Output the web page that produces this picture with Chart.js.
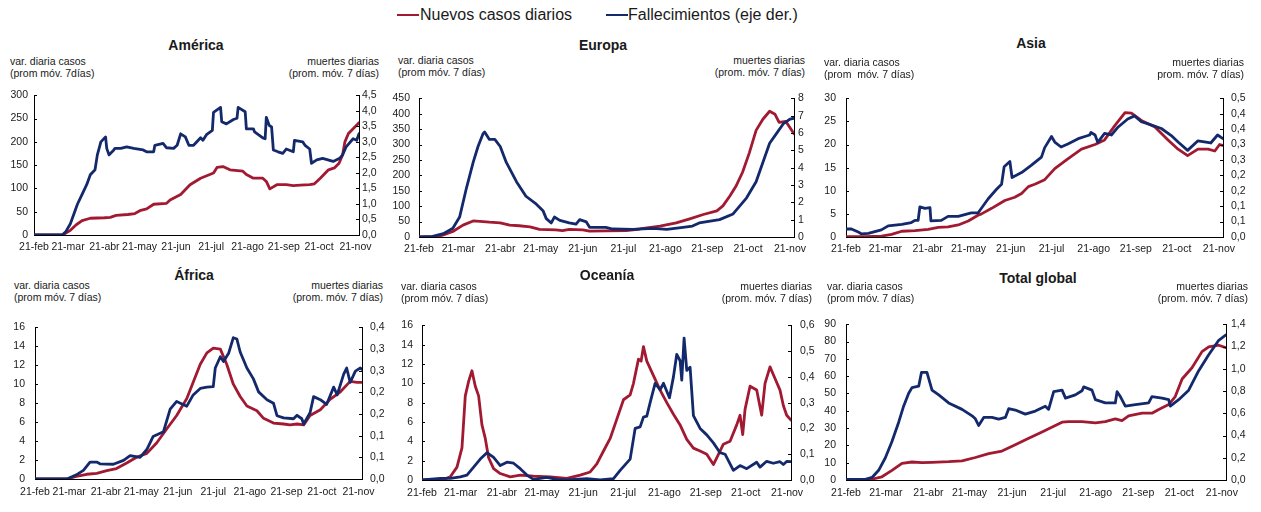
<!DOCTYPE html>
<html lang="es">
<head>
<meta charset="utf-8">
<title>Casos y fallecimientos por región</title>
<script src="https://cdn.jsdelivr.net/npm/chart.js@4/dist/chart.umd.min.js"></script>
<style>
  html, body { margin: 0; padding: 0; background: #fff; }
  #lienzo { position: relative; width: 1261px; height: 512px; overflow: hidden;
            font-family: "Liberation Sans", Arial, sans-serif; color: #1a1a1a; }
  .panel { position: absolute; }
  .titulo { position: absolute; font-weight: bold; font-size: 14px; white-space: nowrap;
            transform: translate(-50%, -50%); line-height: 16px; }
  .eje { position: absolute; font-size: 10.5px; line-height: 12.5px; white-space: pre; }
  .eje.der { text-align: right; transform: translateX(-100%); }
  .ley-linea { position: absolute; height: 2px; }
  .ley-texto { position: absolute; font-size: 16px; line-height: 18px; white-space: nowrap; }
</style>
</head>
<body>
<div id="lienzo"></div>
<script>
// Días contados desde el 21 de febrero (año bisiesto); marcas el día 21 de cada mes
const diasMarca = [0, 29, 60, 90, 121, 151, 182, 213, 243, 274];
const etiquetasMes = ['21-feb', '21-mar', '21-abr', '21-may', '21-jun', '21-jul', '21-ago', '21-sep', '21-oct', '21-nov'];
const ultimoDia = 277;

// Series: pares [día, valor]. Casos en eje izquierdo, muertes en eje derecho.
const americaCasos = [[0,0],[20,0],[25,1],[31,10],[36,22],[41,31],[48,36],[60,37],[65,38],[70,42],[80,44],[86,46],[91,53],[96,56],[102,66],[113,68],[116,75],[125,87],[133,108],[142,122],[153,133],[156,145],[161,147],[167,140],[178,137],[181,130],[187,122],[195,122],[198,115],[201,99],[207,108],[215,108],[221,106],[227,107],[235,108],[239,110],[244,122],[251,140],[256,144],[260,154],[263,172],[265,200],[268,218],[272,228],[277,241]];
const americaMuertes = [[0,0],[24,0],[27,0.1],[31,0.36],[37,0.99],[41,1.31],[45,1.63],[48,1.94],[52,2.1],[54,2.58],[57,3.0],[61,3.16],[62,2.79],[64,2.58],[68,2.74],[69,2.79],[74,2.79],[79,2.84],[85,2.79],[93,2.74],[96,2.68],[102,2.68],[103,2.89],[110,2.95],[113,2.81],[119,2.79],[122,2.89],[125,3.26],[129,3.16],[132,2.89],[136,2.89],[142,3.13],[144,3.05],[147,3.23],[152,3.37],[153,3.95],[159,4.11],[160,3.65],[164,3.58],[170,3.72],[173,3.76],[174,4.11],[180,3.97],[181,3.42],[187,3.42],[188,3.32],[195,3.13],[197,3.1],[198,3.79],[200.5,3.53],[202.5,3.48],[204,2.74],[208,2.68],[212,2.63],[215,2.77],[221,2.68],[222,3.05],[229,3.0],[231,2.89],[235,2.77],[236.5,2.31],[241,2.42],[246,2.47],[255,2.37],[260.5,2.47],[263,2.58],[266,2.84],[272,3.1],[275,3.05],[277,3.26]];

const europaCasos = [[0,0],[13,0],[18,7],[25,18],[32.5,38.5],[40,52],[45,51],[52,48],[60,46],[67,38.5],[74,36.5],[82,33],[89,25],[101,23],[106,21],[111,25],[121,23],[126,19],[138,20],[153,21],[163,26],[178,35],[190,46],[200,59],[210,73],[220,85],[224.5,101],[229.5,132],[234,163.5],[239,210],[244,273],[249,346],[254,382],[259,408],[263,398],[266,372],[271,375],[277,335]];
const europaMuertes = [[0,0],[10,0.04],[18,0.19],[25,0.5],[30,1.15],[35,2.81],[40,4.3],[43.6,5.22],[47.3,5.96],[48.5,6.06],[52,5.63],[56,5.63],[60,5.22],[64.5,4.3],[72,3.19],[79,2.35],[86.7,1.89],[91.6,1.52],[94,1.06],[97.7,0.81],[100,1.15],[104,0.96],[111,0.81],[116,0.74],[118.7,1.0],[123.6,0.87],[126,0.56],[138,0.56],[143,0.46],[158,0.44],[173,0.5],[183,0.44],[195,0.56],[202,0.63],[207,0.81],[222,1.0],[232,1.33],[242,2.26],[249,3.19],[254,4.3],[259,5.41],[264,5.96],[269,6.52],[274,6.8],[277,6.85]];

const asiaCasos = [[0,0.1],[14,0.1],[26,0.2],[33.5,0.55],[41,1.24],[50.7,1.38],[60.4,1.65],[67.8,2.07],[75,2.2],[82.5,2.6],[89.8,3.45],[97,4.7],[99.6,5.0],[107,6.2],[116.7,7.9],[124,8.6],[129,9.4],[134,10.9],[138.7,11.4],[146,12.4],[153.4,14.8],[163,16.9],[173,19],[183,20],[190,21],[197.5,24.1],[205,26.9],[209.7,26.8],[217,25.2],[227,23.8],[236.6,21],[244,19],[251,17.6],[258.6,19],[266,19],[271,18.6],[274.5,20],[277,19.8]];
const asiaMuertes = [[0,0.026],[4,0.026],[9,0.016],[11.5,0.01],[16.4,0.012],[26,0.023],[31,0.036],[41,0.041],[48,0.047],[50.7,0.054],[53,0.054],[54.3,0.098],[58,0.093],[61.7,0.095],[62.4,0.052],[70,0.054],[75,0.067],[82.5,0.067],[92,0.078],[97,0.078],[104.5,0.124],[110.6,0.155],[114.3,0.171],[116.2,0.228],[120.4,0.245],[122,0.193],[129,0.209],[136.3,0.233],[143.6,0.259],[146,0.29],[151,0.326],[153.4,0.308],[158,0.292],[163,0.302],[170.6,0.319],[175.5,0.326],[179,0.331],[180,0.339],[183,0.331],[185,0.307],[190,0.336],[195,0.331],[200,0.357],[207,0.383],[212,0.393],[217,0.374],[222,0.367],[231.7,0.352],[239,0.329],[244,0.308],[251,0.281],[258.6,0.312],[268,0.305],[273,0.331],[277,0.319]];

const africaCasos = [[0,0],[27,0],[35,0.27],[43.8,0.5],[52.3,0.6],[60.8,0.88],[69,1.1],[77.7,1.68],[86,2.29],[94.7,2.7],[103,3.8],[111.7,5.3],[120,6.7],[128.6,8.5],[134,10.2],[140,12.1],[145.6,13.3],[151,13.8],[157,13.7],[162.4,12.1],[168,10.0],[173.8,8.7],[179.5,7.7],[188,7.2],[193.6,6.4],[202,5.9],[210.6,5.8],[216,5.7],[222,5.8],[227.6,5.7],[233,6.7],[241.7,7.3],[250,8.4],[258.7,9.2],[267,10.3],[272.8,10.2],[277,10.2]];
const africaMuertes = [[0,0],[27,0],[35,0.0096],[41,0.02],[46.6,0.039],[52.3,0.039],[55,0.035],[66.4,0.034],[75,0.043],[80.6,0.054],[89,0.05],[94.7,0.068],[100,0.098],[108.8,0.109],[114.5,0.161],[120,0.179],[128.6,0.168],[134,0.194],[140,0.209],[145.6,0.212],[151,0.213],[152.7,0.256],[157,0.282],[159.7,0.271],[164,0.29],[168,0.326],[171,0.323],[173.8,0.293],[179.5,0.256],[185,0.231],[189.4,0.201],[196.5,0.183],[202,0.175],[205,0.146],[210.6,0.141],[219,0.139],[222,0.147],[226,0.139],[227.6,0.127],[233,0.153],[236,0.19],[241.7,0.183],[247,0.172],[253,0.212],[256,0.194],[261.5,0.242],[264,0.256],[267,0.223],[271.4,0.249],[275.6,0.256],[277,0.253]];

const oceaniaCasos = [[0,0],[16.25,0.07],[21.25,0.33],[26.25,1.33],[30,3.33],[32.5,8.7],[35,10.2],[37.5,11.3],[40,9.7],[42.5,8.7],[45,5.7],[47.5,4.3],[50,2.3],[53.75,1.17],[58.75,0.67],[66.25,0.33],[73.75,0.5],[83.75,0.4],[96.25,0.33],[108.75,0.17],[118.75,0.5],[126.25,0.83],[131.25,1.67],[136.25,3.0],[141.25,4.3],[146.25,6.3],[151.25,8.3],[156.25,8.8],[158.75,10],[162.5,12.5],[164.5,12.3],[166.25,13.8],[168.75,12.3],[173.75,10.8],[178.75,9.3],[183.75,8],[188.75,6.8],[193.75,5.7],[198.75,4.2],[203.75,3.3],[208.75,3],[213.75,2.67],[218.75,1.6],[221.25,2.3],[226.25,3.7],[231.25,4],[236.25,5.7],[238.75,6.7],[240.75,4.7],[242.5,7.3],[246.25,9.7],[251.25,9.3],[255,6.7],[257.5,10],[261.25,11.7],[265,10.5],[268.75,9.3],[271.25,7.7],[273.75,6.7],[277,6.2]];
const oceaniaMuertes = [[0,0],[13.75,0.006],[21.25,0.006],[28.75,0.0125],[33.75,0.019],[38.75,0.05],[43.75,0.081],[48.75,0.106],[53.75,0.0875],[58.75,0.056],[63.75,0.069],[68.75,0.065],[73.75,0.044],[78.75,0.019],[83.75,0.0025],[93.75,0.01],[101.25,0.002],[108.75,0],[123.75,0.005],[133.75,0],[143.75,0.005],[148.75,0.0375],[156.25,0.081],[160,0.2],[163.75,0.206],[166.25,0.244],[168.75,0.2475],[171.25,0.3],[175,0.375],[178.75,0.35],[181.25,0.375],[183.75,0.344],[185.75,0.319],[188.75,0.4],[191.25,0.4875],[193.75,0.4625],[195,0.3875],[196.75,0.55],[198.75,0.425],[201.25,0.4375],[203.75,0.25],[208.75,0.2],[213.75,0.175],[218.75,0.144],[223.75,0.106],[227.5,0.1],[231.25,0.0625],[233.75,0.0375],[238.75,0.056],[243.75,0.044],[251.25,0.069],[253.75,0.05],[258.75,0.0725],[263.75,0.065],[268.75,0.071],[271.25,0.06],[273.75,0.072],[277,0.071]];

const globalCasos = [[0,0],[16.5,0],[26.2,1.86],[33.5,5.6],[40.8,9.65],[48.1,10.4],[55.4,10],[62.7,10.2],[74.8,10.6],[84.6,11.1],[94.3,13],[104,15.2],[113.7,16.7],[123.4,20.4],[133.2,24.1],[142.9,27.8],[152.6,31.5],[157.5,33.4],[162.3,33.8],[172,33.8],[181.8,33],[189,33.8],[196.3,35.3],[201.2,34.3],[206,37.1],[215.8,38.6],[223,38.6],[228,40.8],[235.2,43.6],[240,48.2],[245,58.4],[252.2,64.9],[259.5,74.2],[264.4,77],[271.7,77.9],[277,76.5]];
const globalMuertes = [[0,0.006],[14,0.006],[19,0.023],[23.8,0.087],[28.7,0.2],[33.5,0.346],[38.4,0.52],[42,0.664],[45.7,0.78],[48.1,0.831],[53,0.843],[55,0.967],[59,0.967],[62.7,0.808],[67.6,0.765],[74.8,0.693],[84.6,0.635],[91.9,0.577],[94.3,0.55],[96.7,0.49],[100.4,0.563],[106.4,0.563],[111.3,0.548],[116.2,0.563],[118.6,0.641],[123.4,0.629],[130.7,0.592],[138,0.62],[145.3,0.664],[147.7,0.635],[151.4,0.794],[157.5,0.808],[160,0.736],[167.2,0.765],[172,0.802],[173.3,0.837],[179.3,0.808],[181.8,0.722],[189,0.693],[196.3,0.693],[197.6,0.794],[200,0.75],[203.6,0.664],[211,0.678],[220.6,0.693],[223,0.75],[230.4,0.736],[235.2,0.722],[236.4,0.664],[242.5,0.722],[249.8,0.808],[257,0.981],[264.4,1.126],[271.7,1.256],[277,1.305]];

// Etiquetas de los ejes
const americaIzq = ['0','50','100','150','200','250','300'];
const americaDer = ['0,0','0,5','1,0','1,5','2,0','2,5','3,0','3,5','4,0','4,5'];
const europaIzq = ['0','50','100','150','200','250','300','350','400','450'];
const europaDer = ['0','1','2','3','4','5','6','7','8'];
const asiaIzq = ['0','5','10','15','20','25','30'];
const asiaDer = ['0,0','0,1','0,1','0,2','0,2','0,3','0,3','0,4','0,4','0,5'];
const africaIzq = ['0','2','4','6','8','10','12','14','16'];
const africaDer = ['0,0','0,1','0,1','0,2','0,2','0,3','0,3','0,4'];
const oceaniaIzq = ['0','2','4','6','8','10','12','14','16'];
const oceaniaDer = ['0,0','0,1','0,2','0,3','0,4','0,5','0,6'];
const globalIzq = ['0','10','20','30','40','50','60','70','80','90'];
const globalDer = ['0,0','0,2','0,4','0,6','0,8','1,0','1,2','1,4'];

const ROJO = '#a11a31';
const AZUL = '#13296b';
const TEXTO = '#1a1a1a';

const paneles = [
  { titulo: 'América', casos: americaCasos, muertes: americaMuertes,
    izq: americaIzq, pasoIzq: 50, der: americaDer, pasoDer: 0.5,
    area: { l: 34, r: 359, t: 93, b: 235 }, padIzq: 6, padDer: 3, padX: 6,
    tituloPos: [196, 45],
    rotIzq: ['var. diaria casos', '(prom móv. 7días)'], rotDer: ['muertes diarias', '(prom. móv. 7 días)'],
    rotY: 61, rotIzqX: 10, rotDerX: 379 },
  { titulo: 'Europa', casos: europaCasos, muertes: europaMuertes,
    izq: europaIzq, pasoIzq: 50, der: europaDer, pasoDer: 1,
    area: { l: 419, r: 794, t: 93, b: 237 }, padIzq: 9, padDer: 4, padX: 6,
    tituloPos: [603, 45],
    rotIzq: ['var. diaria casos', '(prom móv. 7 días)'], rotDer: ['muertes diarias', '(prom. móv. 7 días)'],
    rotY: 60, rotIzqX: 398, rotDerX: 805 },
  { titulo: 'Asia', casos: asiaCasos, muertes: asiaMuertes,
    izq: asiaIzq, pasoIzq: 5, der: asiaDer, pasoDer: 0.05,
    area: { l: 846, r: 1223, t: 92, b: 237 }, padIzq: 10, padDer: 8, padX: 6,
    tituloPos: [1031, 43],
    rotIzq: ['var. diaria casos', '(prom  móv. 7 días)'], rotDer: ['muertes diarias', 'prom. móv. 7 días)'],
    rotY: 62, rotIzqX: 824, rotDerX: 1244 },
  { titulo: 'África', casos: africaCasos, muertes: africaMuertes,
    izq: africaIzq, pasoIzq: 2, der: africaDer, pasoDer: 0.05,
    area: { l: 35, r: 362, t: 321, b: 479 }, padIzq: 10, padDer: 8, padX: 7,
    tituloPos: [194, 275],
    rotIzq: ['var. diaria casos', '(prom móv. 7 días)'], rotDer: ['muertes diarias', '(prom. móv. 7 días)'],
    rotY: 285, rotIzqX: 14, rotDerX: 383 },
  { titulo: 'Oceanía', casos: oceaniaCasos, muertes: oceaniaMuertes,
    izq: oceaniaIzq, pasoIzq: 2, der: oceaniaDer, pasoDer: 0.1,
    area: { l: 422, r: 791, t: 320, b: 480 }, padIzq: 9, padDer: 9, padX: 7,
    tituloPos: [607, 275],
    rotIzq: ['var. diaria casos', '(prom móv. 7 días)'], rotDer: ['muertes diarias', '(prom. móv. 7 días)'],
    rotY: 286, rotIzqX: 401, rotDerX: 812 },
  { titulo: 'Total global', casos: globalCasos, muertes: globalMuertes,
    izq: globalIzq, pasoIzq: 10, der: globalDer, pasoDer: 0.2,
    area: { l: 846, r: 1226, t: 318, b: 480 }, padIzq: 10, padDer: 5, padX: 7,
    tituloPos: [1038, 278],
    rotIzq: ['var. diaria casos', '(prom móv. 7 días)'], rotDer: ['muertes diarias', '(prom. móv. 7 días)'],
    rotY: 286, rotIzqX: 827, rotDerX: 1248 }
];

// Marcas cortas de los ejes verticales, dibujadas hacia dentro del área del gráfico
const marcasInternas = {
  id: 'marcasInternas',
  afterDraw(chart) {
    const { ctx, chartArea } = chart;
    ctx.save();
    ctx.strokeStyle = '#000';
    ctx.lineWidth = 1;
    ['y', 'y1'].forEach(id => {
      const s = chart.scales[id];
      const x0 = id === 'y' ? chartArea.left : chartArea.right;
      const dx = id === 'y' ? 3 : -3;
      s.ticks.forEach(t => {
        const py = Math.round(s.getPixelForValue(t.value)) + 0.5;
        ctx.beginPath();
        ctx.moveTo(x0, py);
        ctx.lineTo(x0 + dx, py);
        ctx.stroke();
      });
    });
    ctx.restore();
  }
};

const lienzo = document.getElementById('lienzo');

function div(cls, text, css) {
  const d = document.createElement('div');
  d.className = cls;
  d.textContent = text;
  Object.assign(d.style, css);
  lienzo.appendChild(d);
  return d;
}

// Leyenda común
div('ley-linea', '', { left: '397px', top: '14px', width: '22px', background: ROJO });
div('ley-texto', 'Nuevos casos diarios', { left: '420px', top: '6px' });
div('ley-linea', '', { left: '606px', top: '14px', width: '22px', background: AZUL });
div('ley-texto', 'Fallecimientos (eje der.)', { left: '628px', top: '6px' });

const ANCHO_IZQ = 40, ANCHO_DER = 40, ALTO_X = 24, MARGEN_SUP = 10;
const fuente = { family: '"Liberation Sans", Arial, sans-serif', size: 10.5 };

paneles.forEach(p => {
  const a = p.area;
  const w = (a.r - a.l) + ANCHO_IZQ + ANCHO_DER;
  const h = (a.b - a.t) + MARGEN_SUP + ALTO_X;
  const caja = document.createElement('div');
  caja.className = 'panel';
  caja.style.left = (a.l - ANCHO_IZQ) + 'px';
  caja.style.top = (a.t - MARGEN_SUP) + 'px';
  caja.style.width = w + 'px';
  caja.style.height = h + 'px';
  const cv = document.createElement('canvas');
  cv.width = w; cv.height = h;
  cv.style.width = w + 'px'; cv.style.height = h + 'px';
  caja.appendChild(cv);
  lienzo.appendChild(caja);

  div('titulo', p.titulo, { left: p.tituloPos[0] + 'px', top: p.tituloPos[1] + 'px' });
  div('eje', p.rotIzq.join('\n'), { left: p.rotIzqX + 'px', top: (p.rotY - 6.5) + 'px' });
  div('eje der', p.rotDer.join('\n'), { left: p.rotDerX + 'px', top: (p.rotY - 6.5) + 'px' });

  const ejeBorde = { display: true, color: '#000', width: 1 };
  const sinRejilla = { drawOnChartArea: false, drawTicks: false };

  new Chart(cv, {
    type: 'line',
    data: {
      datasets: [
        { label: 'Fallecimientos (eje der.)', yAxisID: 'y1', borderColor: AZUL, borderWidth: 2.8,
          data: p.muertes.map(([x, y]) => ({ x, y })) },
        { label: 'Nuevos casos diarios', yAxisID: 'y', borderColor: ROJO, borderWidth: 2.8,
          data: p.casos.map(([x, y]) => ({ x, y })) }
      ]
    },
    options: {
      responsive: false,
      devicePixelRatio: 1,
      animation: false,
      events: [],
      layout: { padding: { top: MARGEN_SUP, left: 0, right: 0, bottom: 0 } },
      elements: { point: { radius: 0 }, line: { tension: 0, borderJoinStyle: 'round', borderCapStyle: 'round' } },
      plugins: { legend: { display: false }, tooltip: { enabled: false } },
      scales: {
        x: {
          type: 'linear', min: 0, max: ultimoDia,
          border: ejeBorde, grid: sinRejilla,
          afterBuildTicks: s => { s.ticks = diasMarca.map(v => ({ value: v })); },
          afterFit: s => { s.height = ALTO_X; },
          ticks: { autoSkip: false, maxRotation: 0, minRotation: 0, padding: p.padX, color: TEXTO, font: fuente,
                   callback: (v, i) => etiquetasMes[i] }
        },
        y: {
          type: 'linear', position: 'left', min: 0, max: p.pasoIzq * (p.izq.length - 1),
          border: ejeBorde, grid: sinRejilla,
          afterBuildTicks: s => { s.ticks = p.izq.map((_, i) => ({ value: i * p.pasoIzq })); },
          afterFit: s => { s.width = ANCHO_IZQ; },
          ticks: { autoSkip: false, padding: p.padIzq, color: TEXTO, font: fuente, callback: (v, i) => p.izq[i] }
        },
        y1: {
          type: 'linear', position: 'right', min: 0, max: p.pasoDer * (p.der.length - 1),
          border: ejeBorde, grid: sinRejilla,
          afterBuildTicks: s => { s.ticks = p.der.map((_, i) => ({ value: i * p.pasoDer })); },
          afterFit: s => { s.width = ANCHO_DER; },
          ticks: { autoSkip: false, padding: p.padDer, color: TEXTO, font: fuente, callback: (v, i) => p.der[i] }
        }
      }
    },
    plugins: [marcasInternas]
  });
});
</script>
</body>
</html>
